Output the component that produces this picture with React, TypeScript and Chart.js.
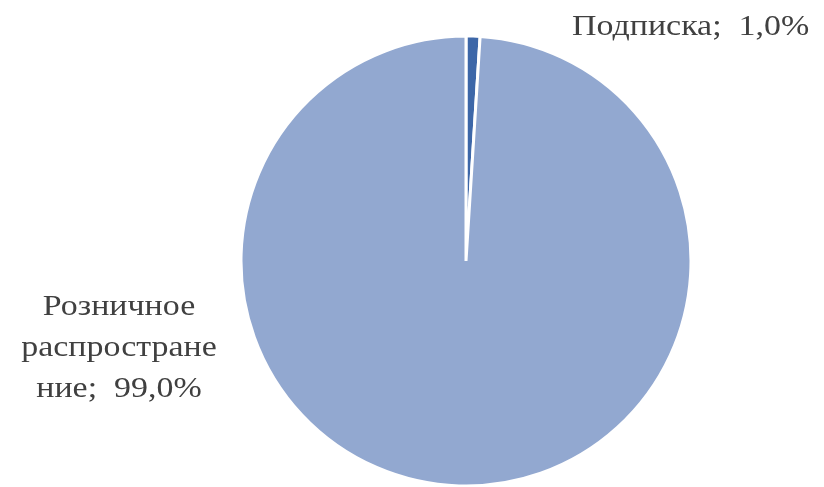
import React, { useEffect, useRef } from "react";
import { Chart, registerables } from "chart.js";

Chart.register(...registerables);

const categories = ["Подписка", "Розничное распространение"];
const values = [1.0, 99.0];
const colors = ["#3D67A8", "#92A8D0"];

const fmt = (v: number) => v.toFixed(1).replace(".", ",") + "%";

const FONT = "29px 'Liberation Serif', 'Times New Roman', serif";
const TEXT_COLOR = "#404040";
const SX = 1.17; // horizontal stretch of the label text

function wrap(ctx: CanvasRenderingContext2D, text: string, maxW: number): string[] {
  const w = (s: string) => ctx.measureText(s).width * SX;
  const words = text.split(" ");
  const lines: string[] = [];
  let cur = "";
  for (const word of words) {
    const test = cur === "" ? word : cur + " " + word;
    if (w(test) <= maxW) {
      cur = test;
      continue;
    }
    if (cur !== "") lines.push(cur);
    cur = "";
    let piece = "";
    for (const ch of word) {
      if (w(piece + ch) > maxW && piece) {
        lines.push(piece);
        piece = ch;
      } else piece += ch;
    }
    cur = piece;
  }
  if (cur) lines.push(cur);
  return lines;
}

function drawText(ctx: CanvasRenderingContext2D, s: string, x: number, y: number, align: "left" | "center") {
  const width = ctx.measureText(s).width * SX;
  const left = align === "left" ? x : x - width / 2;
  ctx.save();
  ctx.translate(left, y);
  ctx.scale(SX, 1);
  ctx.textAlign = "left";
  ctx.fillText(s, 0, 0);
  ctx.restore();
}

const labelPlugin = {
  id: "sliceLabels",
  afterDatasetsDraw(chart: any) {
    const ctx: CanvasRenderingContext2D = chart.ctx;
    const meta = chart.getDatasetMeta(0);
    const arc0 = meta.data[0];
    const cx = arc0.x;
    const cy = arc0.y;
    const r = arc0.outerRadius;
    ctx.save();
    ctx.font = FONT;
    ctx.fillStyle = TEXT_COLOR;
    ctx.textBaseline = "alphabetic";
    const t1 = categories[0] + ";  " + fmt(values[0]);
    drawText(ctx, t1, cx + 106, cy - r - 1, "left");
    const t2 = categories[1] + ";  " + fmt(values[1]);
    const lines = wrap(ctx, t2, 212);
    const lh = 41;
    const baseY = cy + 54;
    lines.forEach((l, i) => drawText(ctx, l, cx - 347, baseY + i * lh, "center"));
    ctx.restore();
  },
};

export default function App() {
  const ref = useRef<HTMLCanvasElement>(null);
  useEffect(() => {
    if (!ref.current) return;
    const chart = new Chart(ref.current, {
      type: "pie",
      data: {
        labels: categories,
        datasets: [
          {
            data: values,
            backgroundColor: colors,
            borderColor: "#ffffff",
            borderWidth: 3,
          },
        ],
      },
      options: {
        responsive: false,
        animation: false,
        radius: 225,
        layout: { padding: { left: 240, right: 132, top: 35, bottom: 0 } },
        plugins: {
          legend: { display: false },
          tooltip: { enabled: false },
        },
      } as any,
      plugins: [labelPlugin],
    });
    return () => chart.destroy();
  }, []);
  return (
    <div style={{ position: "fixed", left: 0, top: 0, width: 824, height: 487, background: "#fff" }}>
      <canvas ref={ref} width={824} height={487} style={{ width: 824, height: 487 }} />
    </div>
  );
}
